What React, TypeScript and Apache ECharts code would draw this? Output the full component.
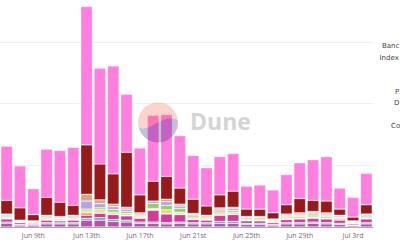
import React, { useEffect, useRef } from "react";
import * as echarts from "echarts";

const categories = [
  "Jun 7th", "Jun 8th", "Jun 9th", "Jun 10th", "Jun 11th", "Jun 12th", "Jun 13th",
  "Jun 14th", "Jun 15th", "Jun 16th", "Jun 17th", "Jun 18th", "Jun 19th", "Jun 20th",
  "Jun 21st", "Jun 22nd", "Jun 23rd", "Jun 24th", "Jun 25th", "Jun 26th", "Jun 27th",
  "Jun 28th", "Jun 29th", "Jun 30th", "Jul 1st", "Jul 2nd", "Jul 3rd", "Jul 4th",
];

// stacked from bottom to top
const violet = [6, 3, 3, 5, 5, 5, 11, 11, 9, 8, 6, 6, 5, 6, 5, 5, 6, 6, 4, 4, 3, 5, 5, 6, 5, 4, 2, 5];
const teal = [2, 1, 1, 2, 2, 2, 3, 4, 3, 3, 2, 2, 2, 2, 2, 2, 3, 3, 2, 2, 1, 2, 2, 2, 2, 2, 1, 2];
const magenta = [5, 3, 2, 4, 3, 4, 5, 7, 8, 7, 6, 19, 14, 12, 5, 4, 10, 11, 4, 4, 3, 5, 6, 6, 6, 5, 2, 6];
const orange = [1, 0, 0, 1, 1, 1, 4, 2, 1, 1, 1, 1, 1, 1, 1, 1, 1, 1, 1, 1, 1, 1, 1, 1, 1, 2, 1, 1];
const yellow = [2, 1, 1, 2, 2, 2, 3, 4, 3, 3, 2, 2, 6, 3, 2, 2, 3, 3, 2, 2, 2, 2, 3, 3, 3, 2, 1, 2];
const green = [2, 1, 1, 2, 1, 2, 3, 3, 4, 3, 2, 8, 7, 6, 3, 2, 3, 3, 2, 2, 1, 2, 2, 3, 2, 1, 1, 2];
const lavender = [2, 1, 1, 2, 2, 2, 13, 7, 5, 4, 2, 4, 6, 4, 2, 2, 3, 3, 1, 1, 1, 2, 2, 2, 2, 2, 1, 2];
const tan = [1, 1, 1, 1, 1, 1, 11, 6, 4, 3, 2, 0, 4, 3, 2, 1, 2, 2, 1, 1, 1, 2, 2, 2, 2, 1, 1, 1];
const darkRed = [22, 20, 10, 29, 23, 16, 80, 58, 49, 89, 29, 32, 37, 26, 23, 15, 21, 26, 12, 12, 10, 15, 23, 18, 19, 10, 6, 15];
const pink = [88, 68, 42, 78, 84, 94, 224, 155, 175, 94, 76, 107, 100, 85, 71, 62, 62, 61, 37, 39, 37, 49, 58, 66, 72, 34, 32, 51];

// legend labels as visible at the right edge
const legendNames = ["Banc", "Index", "P", "D", "Co"];

const seriesDefs: [string, number[], string][] = [
  ["Kyber", violet, "#b94fb4"],
  ["0x", teal, "#3fb4a2"],
  ["Balancer", magenta, "#d4399a"],
  ["Mooniswap", orange, "#f0a63a"],
  ["dYdX", yellow, "#dedc78"],
  ["Curve", green, "#8fcf63"],
  ["1inch", lavender, "#b9a3e8"],
  ["Bancor", tan, "#d3a87e"],
  ["Sushiswap", darkRed, "#971919"],
  ["Uniswap", pink, "#ff7fe0"],
];

const lowerD = "M 0.64 25 C 12 31 26 9 39.9 18 A 20 20 0 0 1 0.64 25 Z";
const upperD = "M 0.64 25 C 12 31 26 9 39.9 18 A 20 20 0 1 0 0.64 25 Z";
let registered = false;
function registerShapes() {
  if (registered) return;
  echarts.graphic.registerShape("duneLow", echarts.graphic.extendPath(lowerD, {}));
  echarts.graphic.registerShape("duneUp", echarts.graphic.extendPath(upperD, {}));
  registered = true;
}

const OFF = 20; // the chart div starts 20px above the page top

export default function App() {
  const ref = useRef<HTMLDivElement>(null);
  useEffect(() => {
    if (!ref.current) return;
    registerShapes();
    const chart = echarts.init(ref.current, null, { renderer: "svg" });
    const legendPos = [
      [382, 46],
      [379.5, 58],
      [395, 92],
      [394, 102.5],
      [391, 126],
    ];
    chart.setOption({
      animation: false,
      grid: { left: -1, right: 27, top: 0, bottom: 13, containLabel: false },
      xAxis: {
        type: "category",
        data: categories,
        axisTick: { show: false },
        axisLine: { lineStyle: { color: "#a8a8a8", width: 1 } },
        axisLabel: {
          interval: (i: number) => i % 4 === 2,
          color: "#707070",
          fontSize: 7,
          fontFamily: "Open Sans",
          margin: 5,
        },
      },
      yAxis: {
        type: "value",
        min: 0,
        max: 400,
        interval: 100,
        axisLabel: { show: false },
        axisLine: { show: false },
        axisTick: { show: false },
        splitLine: { lineStyle: { color: "#f0f0f0", width: 1 } },
      },
      series: seriesDefs.map(([name, data, color]) => ({
        name,
        type: "bar",
        stack: "total",
        data,
        barCategoryGap: "12%",
        itemStyle: { color, borderColor: "rgba(255,255,255,0.45)", borderWidth: 0.6 },
      })),
      graphic: [
        {
          type: "duneUp",
          x: 138,
          y: 102.5 + OFF,
          z: 100,
          style: { fill: "#f4603e", opacity: 0.27 },
        },
        {
          type: "duneLow",
          x: 138,
          y: 102.5 + OFF,
          z: 100,
          style: { fill: "#1e1870", opacity: 0.27 },
        },
        {
          type: "text",
          x: 190,
          y: 121 + OFF,
          z: 100,
          style: {
            text: "Dune",
            fill: "#d4d4d4",
            font: "bold 23px 'Open Sans'",
            textVerticalAlign: "middle",
          },
        },
        ...legendNames.map((t, i) => ({
          type: "text",
          x: legendPos[i][0],
          y: legendPos[i][1] + OFF,
          z: 100,
          style: {
            text: t,
            fill: "#444",
            font: "7px 'DejaVu Sans'",
            textVerticalAlign: "middle",
          },
        })),
      ],
    });
    return () => chart.dispose();
  }, []);
  return (
    <div
      ref={ref}
      style={{ width: 400, height: 240 + OFF, position: "absolute", left: 0, top: -OFF }}
    />
  );
}
